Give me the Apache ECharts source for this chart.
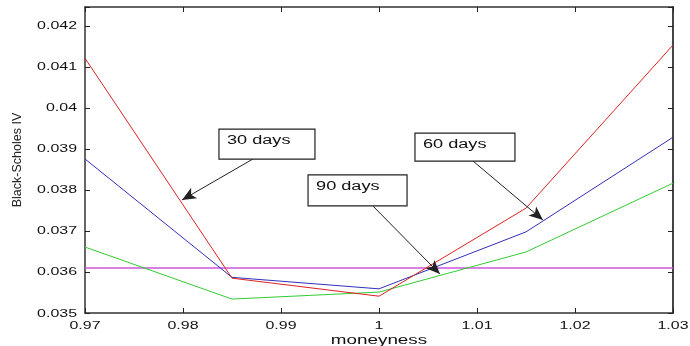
<!DOCTYPE html>
<html><head><meta charset="utf-8">
<script src="https://cdn.jsdelivr.net/npm/echarts@6/dist/echarts.min.js"></script>
<style>html,body{margin:0;padding:0;background:#fff}#c{width:690px;height:346px}</style>
</head><body><div id="c"></div>
<script>
const moneyness = [0.97, 0.985, 1.0, 1.015, 1.03];
const iv30 = [0.04122, 0.03585, 0.03541, 0.03756, 0.04154];
const iv60 = [0.03876, 0.03587, 0.03559, 0.03698, 0.03929];
const iv90 = [0.03661, 0.03534, 0.03551, 0.03649, 0.03817];
const flatIV = 0.0361;
const xTicks = [0.97, 0.98, 0.99, 1.0, 1.01, 1.02, 1.03];
const yTicks = [0.035, 0.036, 0.037, 0.038, 0.039, 0.04, 0.041, 0.042];
const xTickLabels = ['0.97', '0.98', '0.99', '1', '1.01', '1.02', '1.03'];
const yTickLabels = ['0.035', '0.036', '0.037', '0.038', '0.039', '0.04', '0.041', '0.042'];
const xTitle = 'moneyness';
const yTitle = 'Black-Scholes IV';
const annLabels = ['30 days', '60 days', '90 days'];
const annBoxAt = [[0.98367, 0.03949], [1.00367, 0.03939], [0.99276, 0.03837]];
const annFrom = [[0.98714, 0.03876], [1.00959, 0.03871], [0.99939, 0.03761]];
const annTo = [[0.97990, 0.03776], [1.01673, 0.03727], [1.00622, 0.03595]];

const FONT = '"Liberation Sans", Arial, sans-serif';
const SX = 1.45;
const pair = (xs, ys) => xs.map((x, i) => [x, ys[i]]);
const chart = echarts.init(document.getElementById('c'), null, {renderer: 'canvas'});
const axisLine = {show: true, lineStyle: {color: '#333', width: 1.5}};
const tick = {show: true, inside: true, length: 5, lineStyle: {color: '#222'}};
chart.setOption({
  animation: false,
  backgroundColor: '#fff',
  grid: {left: 85, right: 17, top: 7, bottom: 33},
  xAxis: [
    {type: 'value', min: 0.97, max: 1.03, interval: 0.01, position: 'bottom',
     axisLine, axisTick: tick, splitLine: {show: false}, axisLabel: {show: false}},
    {type: 'value', min: 0.97, max: 1.03, interval: 0.01, position: 'top',
     axisLine, axisTick: tick, axisLabel: {show: false}, splitLine: {show: false}}
  ],
  yAxis: [
    {type: 'value', min: 0.035, max: 0.04247, interval: 0.001, position: 'left',
     axisLine, axisTick: tick, splitLine: {show: false}, axisLabel: {show: false},
     name: yTitle, nameLocation: 'middle', nameGap: 61,
     nameTextStyle: {color: '#222', fontFamily: FONT, fontSize: 12.5}},
    {type: 'value', min: 0.035, max: 0.04247, interval: 0.001, position: 'right',
     axisLine: {show: true, lineStyle: {color: '#444', width: 2}}, axisTick: tick,
     axisLabel: {show: false}, splitLine: {show: false}}
  ],
  series: [
    {type: 'line', name: 'flat', data: [[xTicks[0], flatIV], [xTicks[xTicks.length - 1], flatIV]],
     showSymbol: false, lineStyle: {color: '#cc55dd', width: 1.5}},
    {type: 'line', name: '90 days', data: pair(moneyness, iv90), showSymbol: false,
     lineStyle: {color: '#33cc33', width: 1}},
    {type: 'line', name: '60 days', data: pair(moneyness, iv60), showSymbol: false,
     lineStyle: {color: '#3030b8', width: 1}},
    {type: 'line', name: '30 days', data: pair(moneyness, iv30), showSymbol: false,
     lineStyle: {color: '#dd2222', width: 1},
     markLine: {silent: true, symbol: ['none', 'arrow'], symbolSize: [9, 14], label: {show: false},
       lineStyle: {color: '#222', width: 1, type: 'solid'},
       data: annFrom.map((f, i) => [{coord: f}, {coord: annTo[i]}])}}
  ]
});
const toPx = p => chart.convertToPixel({xAxisIndex: 0, yAxisIndex: 0}, p);
const g = [];
const txt = (x, y, s, size, align, extra) => Object.assign({type: 'text', x, y, scaleX: SX, z: 101,
  style: {text: s, fill: '#111', font: size + 'px ' + FONT, align, verticalAlign: 'middle'}}, extra || {});
const yMin = yTicks[0];
yTicks.forEach((v, i) => {
  const p = toPx([xTicks[0], v]);
  g.push(txt(p[0] - 8, p[1] + (i === 0 ? 1 : 0), yTickLabels[i], 11, 'right'));
});
xTicks.forEach((v, i) => {
  const p = toPx([v, yMin]);
  g.push(txt(p[0], p[1] + 13, xTickLabels[i], 11, 'center'));
});
{
  const pl = toPx([xTicks[0], yMin]), pr = toPx([xTicks[xTicks.length - 1], yMin]);
  g.push(txt((pl[0] + pr[0]) / 2, pl[1] + 27.5, xTitle, 13, 'center'));
}
const widths = [96, 100, 99], heights = [30, 28, 31];
annBoxAt.forEach((p, i) => {
  const px = toPx(p);
  g.push({type: 'rect', shape: {x: px[0], y: px[1], width: widths[i], height: heights[i]},
    style: {fill: '#fff', stroke: '#222', lineWidth: 1.2}, z: 100});
  g.push(txt(px[0] + 8, px[1] + 11.5, annLabels[i], 12.5, 'left'));
});
chart.setOption({graphic: g});
</script></body></html>
